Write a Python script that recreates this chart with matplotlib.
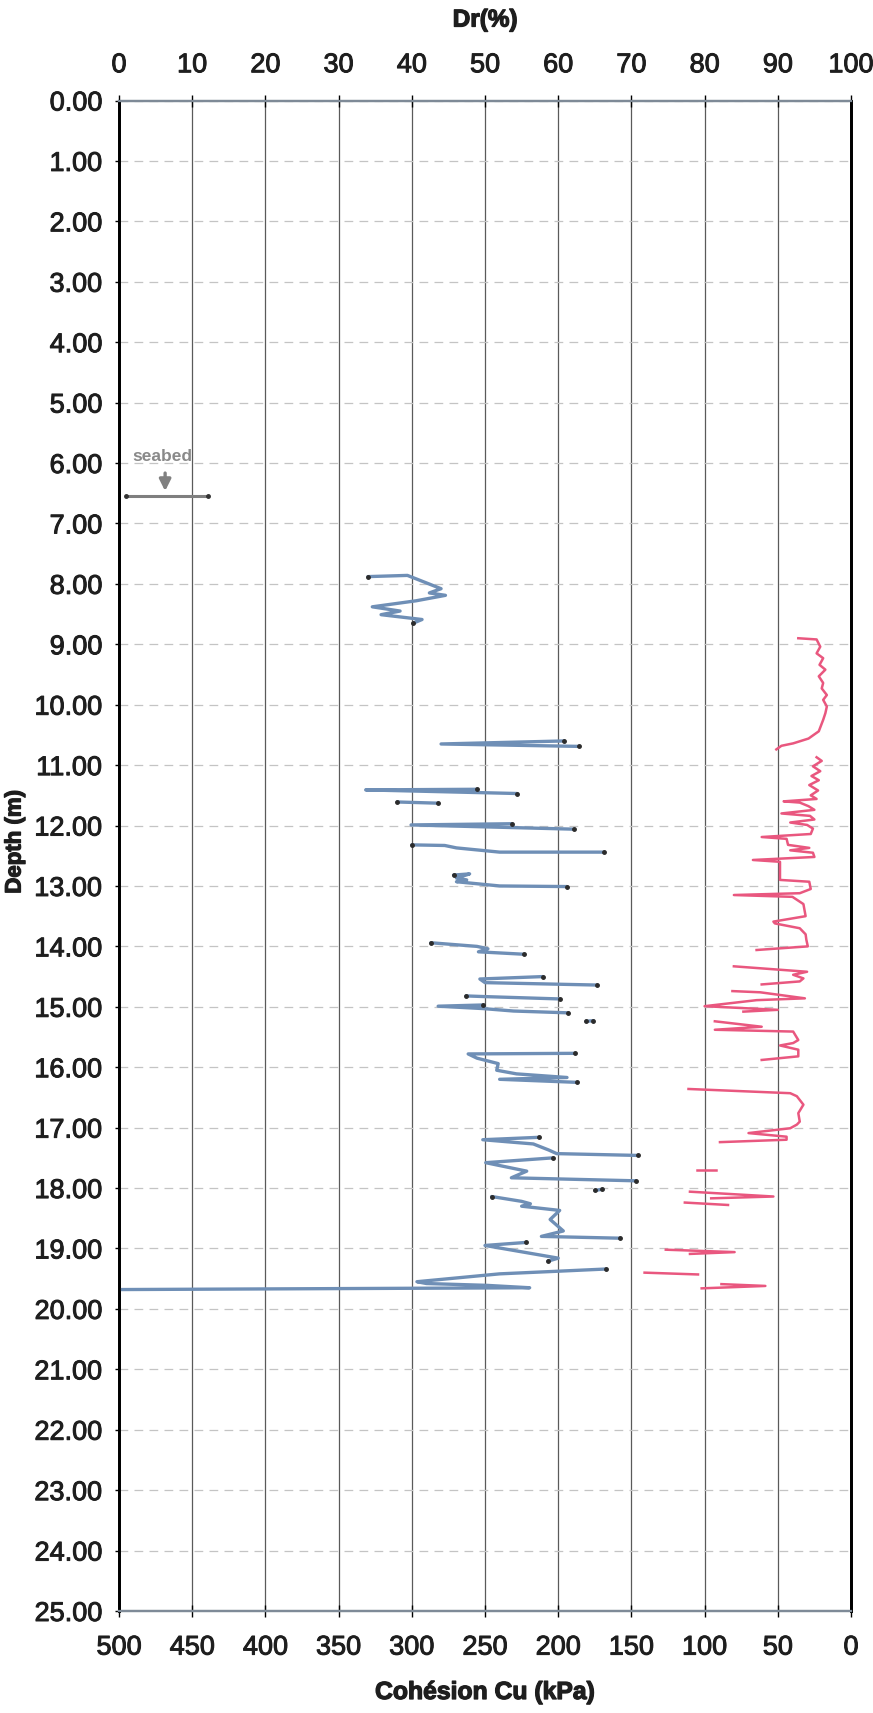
import matplotlib.pyplot as plt
import matplotlib.patheffects as pe
import numpy as np

plt.rcParams['font.family'] = ['Liberation Sans', 'DejaVu Sans']

depth_ticks = np.arange(0, 26)
dr_ticks = np.arange(0, 101, 10)
cu_ticks = np.arange(0, 501, 50)

# Cu (kPa), one list per trace piece, with the matching depths (m)
cu_kpa = [
    [330, 303, 280, 288, 277, 297, 327, 308, 321, 293, 299],
    [196, 280, 186],
    [255.5, 331.5, 228],
    [310, 282],
    [231.5, 300.5, 189.5],
    [300, 277.5, 269.5, 240, 168.5],
    [271.5, 260.5, 269.5, 262.5, 269.5, 240, 194],
    [287, 255.5, 248, 254.5, 223.5],
    [210.5, 253.5, 250, 173.5],
    [263, 251.5, 199],
    [251.5, 282, 251, 230.5, 193],
    [181, 176],
    [188.5, 261.5, 255.5, 241, 242, 228.5, 194, 240, 187.5],
    [213, 251.5, 217, 206.5, 201, 145.5],
    [203.5, 249.5, 221.5, 232, 147],
    [175, 170],
    [245.5, 225, 219, 225, 199, 205.5, 196.5, 211.5, 157.5],
    [222, 250, 200, 207],
    [167.5, 203.5, 240, 296.5, 290, 249, 219.5, 500],
]
cu_depth = [
    [7.88, 7.86, 8.08, 8.15, 8.19, 8.28, 8.38, 8.45, 8.51, 8.59, 8.65],
    [10.60, 10.65, 10.69],
    [11.40, 11.41, 11.47],
    [11.61, 11.63],
    [11.97, 11.99, 12.06],
    [12.32, 12.33, 12.37, 12.44, 12.44],
    [12.82, 12.80, 12.87, 12.90, 12.93, 13.00, 13.01],
    [13.94, 14.00, 14.04, 14.09, 14.13],
    [14.50, 14.54, 14.60, 14.64],
    [14.82, 14.83, 14.87],
    [14.97, 14.99, 15.03, 15.07, 15.10],
    [15.24, 15.23],
    [15.77, 15.78, 15.85, 15.94, 16.05, 16.11, 16.17, 16.20, 16.25],
    [17.16, 17.20, 17.27, 17.37, 17.43, 17.46],
    [17.50, 17.58, 17.72, 17.83, 17.88],
    [18.04, 18.02],
    [18.14, 18.22, 18.26, 18.30, 18.37, 18.52, 18.71, 18.80, 18.83],
    [18.90, 18.95, 19.16, 19.21],
    [19.34, 19.38, 19.42, 19.55, 19.58, 19.61, 19.65, 19.68],
]

# Dr (%), one list per trace piece, with the matching depths (m)
dr_pct = [
    [92.8, 95.3, 95.8, 95.3, 96.2, 95.7, 96.5, 95.6, 96.2, 96.0, 96.7, 96.2,
     96.7, 96.5, 96.2, 95.6, 94.2, 92.1, 90.5, 89.8],
    [95.3, 96.0, 94.8, 95.8, 94.6, 95.6, 94.3, 95.5, 94.5, 95.3, 90.8, 93.0,
     94.2, 95.0, 90.5, 94.4, 95.0, 91.7, 94.0, 94.8, 94.5, 87.8, 91.2, 91.4,
     94.3, 91.7, 94.8, 95.0, 86.6, 90.3, 90.3, 94.3, 94.5, 93.0, 84.0, 92.0,
     93.5, 93.8, 89.4, 89.6, 93.0, 93.8, 93.9, 94.1, 87.1],
    [84.0, 94.0, 92.1, 93.5, 93.0, 87.8],
    [83.8, 87.6, 93.7, 87.1, 80.0, 90.0, 85.3],
    [81.4, 87.8, 81.4, 92.1, 92.8, 92.1, 90.3, 92.8, 92.8, 87.8],
    [77.8, 91.7, 92.6, 93.5, 92.8, 93.0, 92.6, 91.7, 86.0, 91.2, 91.2, 82.1],
    [78.9, 81.6],
    [78.0, 89.4, 80.9],
    [77.3, 83.2],
    [74.7, 84.1, 78.0],
    [71.8, 79.1],
    [82.3, 88.3, 79.6],
]
dr_depth = [
    [8.90, 8.92, 9.04, 9.15, 9.23, 9.34, 9.42, 9.53, 9.64, 9.73, 9.84, 9.92,
     10.03, 10.14, 10.25, 10.44, 10.56, 10.64, 10.68, 10.74],
    [10.87, 10.93, 11.02, 11.10, 11.18, 11.25, 11.33, 11.42, 11.50, 11.56, 11.60, 11.62,
     11.68, 11.74, 11.80, 11.84, 11.90, 11.95, 11.99, 12.05, 12.14, 12.19, 12.22, 12.32,
     12.37, 12.41, 12.45, 12.52, 12.57, 12.60, 12.90, 12.93, 13.05, 13.12, 13.15, 13.18,
     13.30, 13.50, 13.59, 13.62, 13.70, 13.80, 13.89, 14.00, 14.06],
    [14.33, 14.42, 14.47, 14.53, 14.58, 14.63],
    [14.74, 14.76, 14.86, 14.89, 14.99, 15.05, 15.08],
    [15.24, 15.33, 15.38, 15.41, 15.55, 15.60, 15.64, 15.71, 15.82, 15.88],
    [16.36, 16.43, 16.48, 16.62, 16.76, 16.90, 16.95, 17.01, 17.09, 17.15, 17.20, 17.24],
    [17.70, 17.70],
    [18.06, 18.14, 18.17],
    [18.24, 18.28],
    [19.02, 19.06, 19.09],
    [19.40, 19.43],
    [19.59, 19.62, 19.66],
]

seabed_depth = 6.55
seabed_dr = [1.0, 12.2]

# ---- figure ----
fig = plt.figure(figsize=(8.73, 17.13), dpi=100)
ax = fig.add_axes([119 / 873, 1 - 1611 / 1713, 732 / 873, 1510.5 / 1713])
ax.set_xlim(500, 0)
ax.set_ylim(25, 0)
ax_top = ax.twiny()
ax_top.set_xlim(0, 100)

# grid: solid verticals, faint dashed horizontals
ax.set_axisbelow(True)
ax.xaxis.grid(True, color='#5a5a5a', lw=0.9)
ax.yaxis.grid(True, color='#c4c4c4', lw=0.9, ls=(0, (7, 5)))

for tr, d in zip(cu_kpa, cu_depth):
    ax.plot(tr, d, color='#6f8fb6', lw=2.4, solid_capstyle='round', zorder=3)
    ends = [(x, y) for x, y in ((tr[0], d[0]), (tr[-1], d[-1])) if x < 500]
    ax.plot([e[0] for e in ends], [e[1] for e in ends], ls='none', marker='o',
            ms=2.5, color='#2b2b2b', zorder=4)

for tr, d in zip(dr_pct, dr_depth):
    ax_top.plot(tr, d, color='#e9577f', lw=1.8, zorder=3)

# seabed marker
ax_top.plot(seabed_dr, [seabed_depth, seabed_depth], color='#7f7f7f', lw=2.2,
            marker='o', ms=2.5, mfc='#333333', mec='#333333')
ax_top.annotate('', xy=(6.3, seabed_depth - 0.04), xytext=(6.3, 6.12),
                arrowprops=dict(arrowstyle='-|>', color='#808080', lw=2.4,
                                mutation_scale=17))
ax_top.text(5.9, 5.9, 'seabed', ha='center', va='center', color='#8a8a8a',
            fontsize=12.5, fontweight='bold')

# ticks
ax.set_yticks(depth_ticks)
ax.set_yticklabels([f'{v:.2f}' for v in depth_ticks])
ax.set_xticks(cu_ticks)
ax.set_xticklabels([str(v) for v in cu_ticks])
ax_top.set_xticks(dr_ticks)
ax_top.set_xticklabels([str(v) for v in dr_ticks])

ax.tick_params(axis='y', length=3, width=1, pad=9, labelsize=19.5, labelcolor='#1e1e1e')
ax.tick_params(axis='x', direction='inout', length=8, width=1, pad=13,
               labelsize=19.5, labelcolor='#1e1e1e')
ax_top.tick_params(axis='x', direction='inout', length=8, width=1, pad=12,
                   labelsize=19.5, labelcolor='#1e1e1e')
# scanned print: slightly heavier strokes on the text
thick = [pe.withStroke(linewidth=0.7, foreground='#1e1e1e')]
for lab in ax.get_xticklabels() + ax.get_yticklabels() + ax_top.get_xticklabels():
    lab.set_path_effects(thick)

# frame
for a in (ax, ax_top):
    for side in ('left', 'right'):
        a.spines[side].set_color('black')
        a.spines[side].set_linewidth(2)
    for side in ('top', 'bottom'):
        a.spines[side].set_color('#7e8a97')
        a.spines[side].set_linewidth(1.6)

title_kw = dict(ha='center', va='center', fontweight='bold', color='#1e1e1e',
                path_effects=[pe.withStroke(linewidth=0.9, foreground='#1e1e1e')])
fig.text(0.5556, 1 - 20 / 1713, 'Dr(%)', fontsize=17.5, **title_kw)
fig.text(0.5556, 1 - 1692 / 1713, 'Cohésion Cu (kPa)', fontsize=17.8, **title_kw)
fig.text(15 / 873, 1 - 842 / 1713, 'Depth (m)', rotation=90, fontsize=16, **title_kw)

fig.savefig('out.png', dpi=100)
